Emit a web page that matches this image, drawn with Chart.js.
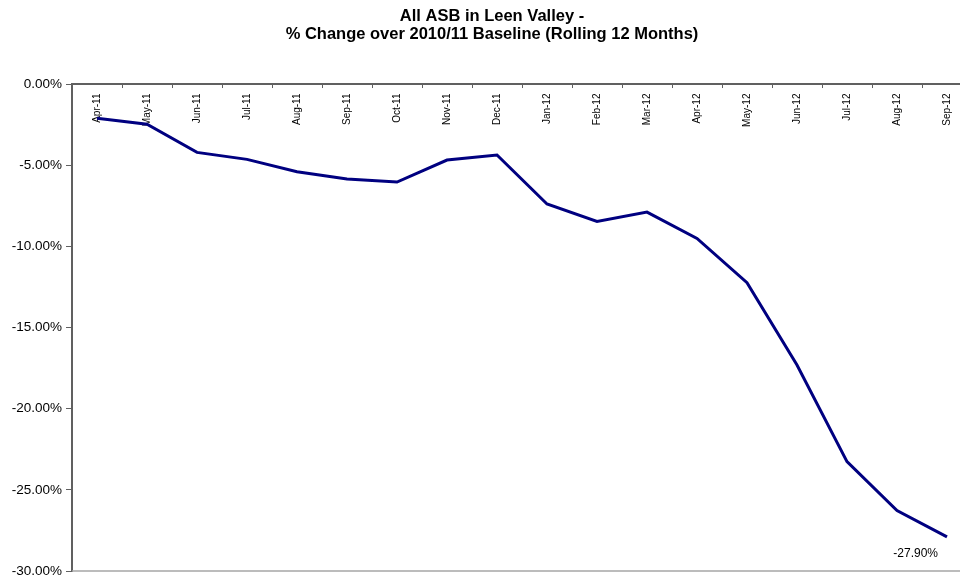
<!DOCTYPE html>
<html>
<head>
<meta charset="utf-8">
<script src="https://cdn.jsdelivr.net/npm/chart.js@4/dist/chart.umd.min.js"></script>
<style>
  html, body { margin: 0; padding: 0; background: #fff; overflow: hidden; }
  #wrap { width: 960px; height: 579px; overflow: hidden; }
  canvas { display: block; }
</style>
</head>
<body>
<div id="wrap"><canvas id="c" width="984" height="579"></canvas></div>
<script>
const titleLines = ['All ASB in Leen Valley -', '% Change over 2010/11 Baseline (Rolling 12 Months)'];
const categories = ['Apr-11','May-11','Jun-11','Jul-11','Aug-11','Sep-11','Oct-11','Nov-11','Dec-11',
                    'Jan-12','Feb-12','Mar-12','Apr-12','May-12','Jun-12','Jul-12','Aug-12','Sep-12'];
const changeValues = [-2.11, -2.48, -4.21, -4.64, -5.40, -5.85, -6.04, -4.68, -4.37,
                      -7.39, -8.46, -7.89, -9.51, -12.24, -17.31, -23.26, -26.28, -27.90];
const yMin = -30;
const yMax = 0;
const yStep = 5;

const FONT = '"Liberation Sans", Arial, sans-serif';

const axisDeco = {
  id: 'axisDeco',
  beforeDatasetsDraw(chart) {
    const { ctx, chartArea: a, scales: { x, y } } = chart;
    const y0 = y.getPixelForValue(yMax);
    const yb = y.getPixelForValue(yMin);
    ctx.save();
    // bottom border of plot
    ctx.strokeStyle = '#a6a6a6';
    ctx.lineWidth = 1.5;
    ctx.beginPath(); ctx.moveTo(a.left, yb); ctx.lineTo(a.right, yb); ctx.stroke();
    // category axis at 0%
    ctx.strokeStyle = '#606060';
    ctx.lineWidth = 2;
    ctx.beginPath(); ctx.moveTo(a.left, y0); ctx.lineTo(a.right, y0); ctx.stroke();
    const half = (x.getPixelForValue(1) - x.getPixelForValue(0)) / 2;
    ctx.lineWidth = 1;
    for (let i = 0; i <= categories.length; i++) {
      const px = Math.round(x.getPixelForValue(0) - half + i * 2 * half) + 0.5;
      ctx.beginPath(); ctx.moveTo(px, y0); ctx.lineTo(px, y0 + 4); ctx.stroke();
    }
    // category labels, rotated, below the axis line
    ctx.font = '10px ' + FONT;
    ctx.fillStyle = '#000';
    ctx.textAlign = 'right';
    ctx.textBaseline = 'middle';
    categories.forEach((c, i) => {
      ctx.save();
      ctx.translate(x.getPixelForValue(i), y0 + 9.5);
      ctx.rotate(-Math.PI / 2);
      ctx.fillText(c, 0, 0);
      ctx.restore();
    });
    ctx.restore();
  },
  afterDatasetsDraw(chart) {
    const { ctx } = chart;
    const meta = chart.getDatasetMeta(0);
    const last = meta.data[meta.data.length - 1];
    const v = changeValues[changeValues.length - 1];
    ctx.save();
    ctx.font = '12px ' + FONT;
    ctx.fillStyle = '#000';
    ctx.textAlign = 'right';
    ctx.textBaseline = 'middle';
    ctx.fillText(v.toFixed(2) + '%', last.x - 9, last.y + 16.5);
    ctx.restore();
  }
};

new Chart(document.getElementById('c'), {
  type: 'line',
  data: {
    labels: categories,
    datasets: [{
      data: changeValues,
      borderColor: '#000080',
      backgroundColor: '#000080',
      borderWidth: 3,
      pointRadius: 0,
      tension: 0,
      fill: false
    }]
  },
  options: {
    responsive: false,
    animation: false,
    layout: { padding: { left: 12, right: 12, top: 0, bottom: 8 } },
    plugins: {
      legend: { display: false },
      tooltip: { enabled: false },
      title: {
        display: true,
        text: titleLines,
        color: '#000',
        font: { family: FONT, size: 16.5, weight: 'bold', lineHeight: 1.08 },
        padding: { top: 8, bottom: 40.4 }
      }
    },
    scales: {
      x: {
        type: 'category',
        display: false,
        offset: true
      },
      y: {
        min: yMin,
        max: yMax,
        afterFit(scale) {
          scale.width = 60;
          scale.paddingTop = 0;
          scale.paddingBottom = 0;
        },
        ticks: {
          stepSize: yStep,
          color: '#000',
          padding: 4,
          font: { family: FONT, size: 13.5, lineHeight: 1 },
          callback: (v) => v.toFixed(2) + '%'
        },
        grid: {
          drawOnChartArea: false,
          drawTicks: true,
          tickLength: 6,
          color: '#606060'
        },
        border: { display: true, color: '#606060', width: 2 }
      }
    }
  },
  plugins: [axisDeco]
});
</script>
</body>
</html>
